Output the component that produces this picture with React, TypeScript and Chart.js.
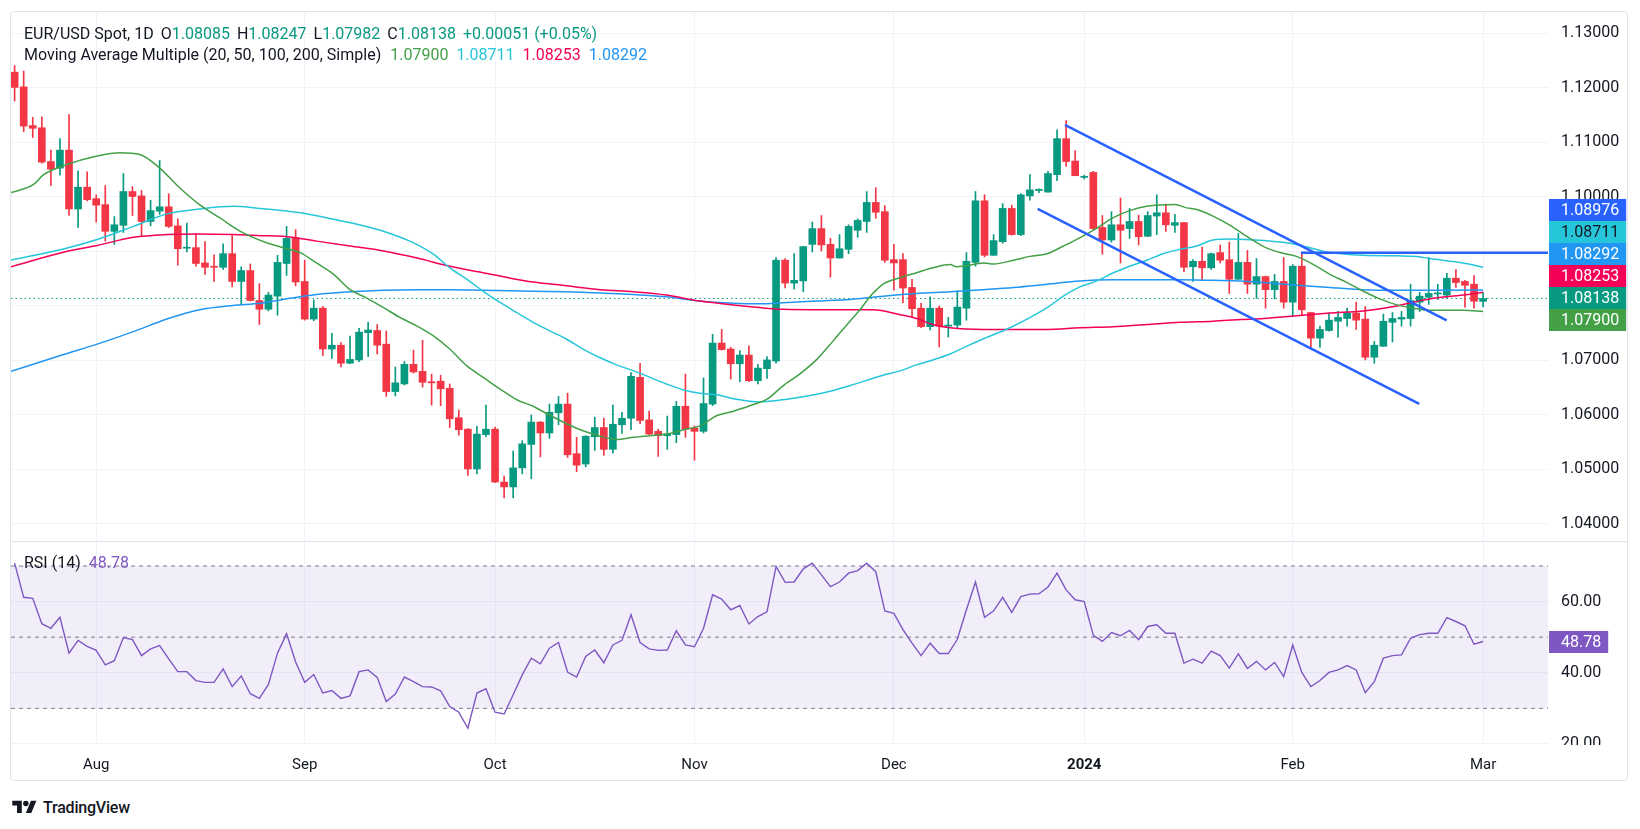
import React, { useEffect, useRef } from "react";
import { Chart, registerables } from "chart.js";

Chart.register(...registerables);

const FONT = 'Roboto, "Noto Sans", "DejaVu Sans", sans-serif';
const TEXT = "#131722";
const UP = "#089981";
const DOWN = "#F23645";
const GRID = "#F0F3FA";
const MA_COLORS = ["#43A047", "#26C6DA", "#F50057", "#2196F3"];
const TREND = "#2962FF";
const RSI_COLOR = "#7E57C2";

// ---------------- DATA ----------------
// Daily bars, index 0 = 19 Jul 2023 ... index 162 = 1 Mar 2024 (weekdays)
const opens = [
  1.1229, 1.1202, 1.1131, 1.1127, 1.1065, 1.1053, 1.1086, 1.0978, 1.1018, 1.0997,
  1.0986, 1.0937, 1.0948, 1.1010, 1.1002, 1.0955, 1.0974, 1.0982, 1.0947, 1.0906,
  1.0907, 1.0879, 1.0872, 1.0871, 1.0896, 1.0845, 1.0865, 1.0810, 1.0794, 1.0818,
  1.0878, 1.0925, 1.0845, 1.0776, 1.0796, 1.0721, 1.0728, 1.0695, 1.0701, 1.0751,
  1.0755, 1.0730, 1.0643, 1.0657, 1.0693, 1.0680, 1.0661, 1.0662, 1.0649, 1.0595,
  1.0574, 1.0501, 1.0564, 1.0574, 1.0477, 1.0468, 1.0503, 1.0546, 1.0587, 1.0567,
  1.0604, 1.0620, 1.0529, 1.0510, 1.0560, 1.0577, 1.0537, 1.0582, 1.0594, 1.0669,
  1.0591, 1.0570, 1.0562, 1.0564, 1.0616, 1.0576, 1.0570, 1.0620, 1.0732, 1.0721,
  1.0694, 1.0710, 1.0663, 1.0685, 1.0699, 1.0884, 1.0842, 1.0846, 1.0913, 1.0942,
  1.0913, 1.0888, 1.0904, 1.0939, 1.0955, 1.0990, 1.0973, 1.0885, 1.0885, 1.0834,
  1.0796, 1.0762, 1.0796, 1.0763, 1.0765, 1.0796, 1.0880, 1.0993, 1.0893, 1.0918,
  1.0979, 1.0931, 1.1002, 1.1012, 1.1009, 1.1041, 1.1107, 1.1066, 1.1036, 1.1045,
  1.0944, 1.0921, 1.0949, 1.0942, 1.0955, 1.0928, 1.0965, 1.0971, 1.0948, 1.0953,
  1.0872, 1.0882, 1.0870, 1.0898, 1.0885, 1.0849, 1.0880, 1.0840, 1.0854, 1.0830,
  1.0845, 1.0807, 1.0873, 1.0788, 1.0741, 1.0755, 1.0772, 1.0777, 1.0787, 1.0776,
  1.0706, 1.0726, 1.0770, 1.0776, 1.0777, 1.0807, 1.0816, 1.0822, 1.0820, 1.0851,
  1.0845, 1.0840, 1.08085,
];
const highs = [
  1.1241, 1.1231, 1.1146, 1.1147, 1.1086, 1.1107, 1.1151, 1.1048, 1.1046, 1.1004,
  1.1021, 1.0964, 1.1043, 1.1019, 1.1012, 1.0994, 1.1067, 1.1006, 1.0960, 1.0952,
  1.0933, 1.0918, 1.0894, 1.0914, 1.0931, 1.0872, 1.0877, 1.0841, 1.0825, 1.0893,
  1.0946, 1.0940, 1.0884, 1.0811, 1.0799, 1.0750, 1.0733, 1.0745, 1.0759, 1.0770,
  1.0766, 1.0754, 1.0688, 1.0698, 1.0719, 1.0737, 1.0675, 1.0673, 1.0657, 1.0609,
  1.0575, 1.0579, 1.0618, 1.0578, 1.0488, 1.0534, 1.0553, 1.0600, 1.0588, 1.0620,
  1.0634, 1.0640, 1.0559, 1.0562, 1.0596, 1.0594, 1.0618, 1.0605, 1.0678, 1.0695,
  1.0607, 1.0574, 1.0598, 1.0625, 1.0675, 1.0580, 1.0668, 1.0748, 1.0757, 1.0724,
  1.0718, 1.0727, 1.0693, 1.0707, 1.0889, 1.0887, 1.0896, 1.0909, 1.0954, 1.0966,
  1.0924, 1.0931, 1.0949, 1.0960, 1.1010, 1.1017, 1.0984, 1.0913, 1.0896, 1.0849,
  1.0805, 1.0817, 1.0800, 1.0779, 1.0828, 1.0898, 1.1010, 1.1004, 1.0931, 1.0988,
  1.0985, 1.1006, 1.1041, 1.1015, 1.1047, 1.1123, 1.1140, 1.1085, 1.1040, 1.1047,
  1.0966, 1.0973, 1.0998, 1.0979, 1.0967, 1.0973, 1.1004, 1.0987, 1.0968, 1.0953,
  1.0885, 1.0908, 1.0897, 1.0912, 1.0917, 1.0933, 1.0902, 1.0887, 1.0855, 1.0858,
  1.0889, 1.0876, 1.0898, 1.0788, 1.0763, 1.0787, 1.0790, 1.0796, 1.0807, 1.0799,
  1.0735, 1.0785, 1.0788, 1.0790, 1.0840, 1.0825, 1.0889, 1.0840, 1.0860, 1.0867,
  1.0847, 1.0856, 1.08247,
];
const lows = [
  1.1176, 1.1120, 1.1109, 1.1062, 1.1021, 1.1040, 1.0966, 1.0944, 1.0993, 1.0954,
  1.0919, 1.0913, 1.0935, 1.0966, 1.0929, 1.0947, 1.0968, 1.0944, 1.0875, 1.0899,
  1.0873, 1.0858, 1.0845, 1.0867, 1.0835, 1.0804, 1.0809, 1.0766, 1.0791, 1.0783,
  1.0856, 1.0837, 1.0774, 1.0773, 1.0709, 1.0704, 1.0688, 1.0694, 1.0698, 1.0707,
  1.0712, 1.0634, 1.0635, 1.0655, 1.0677, 1.0651, 1.0618, 1.0617, 1.0577, 1.0563,
  1.0489, 1.0492, 1.0560, 1.0476, 1.0448, 1.0448, 1.0492, 1.0483, 1.0523, 1.0557,
  1.0582, 1.0522, 1.0496, 1.0505, 1.0535, 1.0526, 1.0530, 1.0566, 1.0573, 1.0584,
  1.0564, 1.0524, 1.0537, 1.0549, 1.0559, 1.0517, 1.0567, 1.0617, 1.0719, 1.0666,
  1.0661, 1.0661, 1.0657, 1.0667, 1.0695, 1.0833, 1.0831, 1.0826, 1.0899, 1.0901,
  1.0853, 1.0888, 1.0896, 1.0926, 1.0935, 1.0961, 1.0880, 1.0829, 1.0806, 1.0780,
  1.0760, 1.0756, 1.0725, 1.0743, 1.0760, 1.0774, 1.0873, 1.0890, 1.0893, 1.0915,
  1.0930, 1.0929, 1.0994, 1.1008, 1.1009, 1.1030, 1.1056, 1.1039, 1.1033, 1.0940,
  1.0895, 1.0917, 1.0879, 1.0924, 1.0912, 1.0927, 1.0931, 1.0937, 1.0935, 1.0863,
  1.0845, 1.0847, 1.0867, 1.0879, 1.0823, 1.0849, 1.0823, 1.0814, 1.0796, 1.0813,
  1.0796, 1.0782, 1.0782, 1.0724, 1.0724, 1.0754, 1.0743, 1.0763, 1.0757, 1.0701,
  1.0695, 1.0726, 1.0734, 1.0763, 1.0763, 1.0790, 1.0803, 1.0812, 1.0815, 1.0834,
  1.0798, 1.0796, 1.07982,
];
const closes = [
  1.1201, 1.1130, 1.1126, 1.1064, 1.1051, 1.1086, 1.0978, 1.1018, 1.0995, 1.0985,
  1.0937, 1.0949, 1.1010, 1.1001, 1.0955, 1.0975, 1.0982, 1.0946, 1.0905, 1.0907,
  1.0878, 1.0871, 1.0871, 1.0896, 1.0845, 1.0865, 1.0810, 1.0794, 1.0820, 1.0880,
  1.0924, 1.0844, 1.0776, 1.0796, 1.0721, 1.0728, 1.0695, 1.0702, 1.0752, 1.0756,
  1.0728, 1.0643, 1.0659, 1.0693, 1.0679, 1.0660, 1.0659, 1.0648, 1.0593, 1.0573,
  1.0501, 1.0565, 1.0574, 1.0477, 1.0468, 1.0503, 1.0547, 1.0587, 1.0567, 1.0605,
  1.0620, 1.0527, 1.0508, 1.0561, 1.0577, 1.0537, 1.0583, 1.0594, 1.0671, 1.0590,
  1.0565, 1.0562, 1.0565, 1.0616, 1.0574, 1.0570, 1.0621, 1.0732, 1.0720, 1.0694,
  1.0710, 1.0663, 1.0686, 1.0701, 1.0884, 1.0842, 1.0847, 1.0909, 1.0942, 1.0912,
  1.0888, 1.0905, 1.0946, 1.0957, 1.0990, 1.0972, 1.0884, 1.0879, 1.0833, 1.0795,
  1.0762, 1.0796, 1.0763, 1.0765, 1.0798, 1.0882, 1.0993, 1.0893, 1.0920, 1.0979,
  1.0931, 1.1004, 1.1013, 1.1014, 1.1043, 1.1107, 1.1065, 1.1039, 1.1037, 1.0942,
  1.0921, 1.0949, 1.0939, 1.0955, 1.0927, 1.0966, 1.0971, 1.0949, 1.0953, 1.0871,
  1.0882, 1.0870, 1.0896, 1.0884, 1.0849, 1.0880, 1.0840, 1.0854, 1.0830, 1.0845,
  1.0807, 1.0873, 1.0793, 1.0741, 1.0757, 1.0774, 1.0779, 1.0787, 1.0774, 1.0706,
  1.0728, 1.0772, 1.0777, 1.0779, 1.0810, 1.0818, 1.0823, 1.0824, 1.0851, 1.0843,
  1.0838, 1.08087, 1.08138,
];

const rsi14 = [
  70.8, 61.2, 60.9, 53.8, 52.5, 55.6, 45.5, 49.1, 47.4, 46.3,
  42.2, 43.4, 49.9, 49.3, 44.8, 46.7, 47.6, 43.9, 40.3, 40.3,
  37.8, 37.3, 37.3, 41.1, 36.1, 39.1, 34.1, 32.8, 36.7, 45.5,
  51.0, 43.0, 37.3, 39.5, 34.3, 35.0, 32.8, 33.5, 40.3, 40.8,
  38.7, 31.9, 34.0, 38.8, 37.5, 36.1, 36.0, 34.9, 30.5, 28.9,
  24.4, 34.3, 35.5, 28.9, 28.4, 33.8, 39.4, 44.1, 42.5, 46.9,
  48.5, 40.2, 38.8, 44.6, 46.4, 42.8, 47.8, 49.1, 56.3, 48.5,
  46.7, 46.3, 46.4, 51.8, 47.8, 47.3, 52.5, 61.9, 60.7, 57.7,
  58.9, 53.7, 55.8, 57.1, 69.9, 65.4, 65.5, 69.2, 70.8, 67.5,
  64.2, 65.5, 68.0, 68.7, 70.8, 68.4, 57.4, 56.7, 52.1, 48.3,
  44.8, 48.3, 45.4, 45.4, 49.4, 57.7, 65.5, 55.6, 57.4, 61.2,
  57.0, 61.4, 62.1, 62.2, 64.1, 68.0, 63.3, 60.5, 60.0, 50.5,
  48.8, 51.3, 50.4, 51.9, 49.3, 53.0, 53.5, 51.1, 51.1, 42.7,
  43.8, 42.7, 46.1, 44.8, 41.3, 45.3, 41.2, 43.2, 40.8, 42.9,
  38.9, 47.8, 40.1, 36.1, 37.8, 40.1, 40.8, 42.0, 40.8, 34.4,
  37.5, 44.1, 44.8, 45.0, 49.7, 50.7, 51.1, 51.1, 55.5, 54.4,
  53.2, 48.0, 48.78,
];

// Moving averages: [bar index, value]
const ma20Pts = [
  [-0.4, 1.1008], [2.1, 1.1023], [3.2, 1.1041], [5.7, 1.1059], [9.1, 1.1075], [11.6, 1.1081],
  [13.8, 1.1078], [16.0, 1.1053], [18.2, 1.1017], [20.4, 1.0986], [22.7, 1.0961], [24.9, 1.0937],
  [27.8, 1.0916], [29.6, 1.0907], [31.5, 1.0898], [33.3, 1.0879], [35.2, 1.0858], [37.0, 1.0830],
  [38.8, 1.0815], [40.7, 1.0797], [42.5, 1.0779], [44.4, 1.0763], [46.2, 1.0745], [48.0, 1.0721],
  [49.9, 1.0690], [51.7, 1.0669], [53.6, 1.0647], [55.4, 1.0628], [57.2, 1.0616], [59.1, 1.0599],
  [60.9, 1.0584], [62.7, 1.0571], [64.6, 1.0561], [66.4, 1.0555], [68.3, 1.0559], [70.1, 1.0562],
  [71.9, 1.0565], [73.8, 1.0573], [75.6, 1.0580], [77.5, 1.0599], [79.3, 1.0607], [81.1, 1.0617],
  [83.0, 1.0629], [84.8, 1.0654], [86.6, 1.0675], [88.5, 1.0702], [90.3, 1.0736], [92.2, 1.0773],
  [93.3, 1.0794], [94.4, 1.0818], [95.1, 1.0830], [95.8, 1.0840], [97.7, 1.0852], [99.5, 1.0861],
  [101.3, 1.0870], [103.2, 1.0876], [103.9, 1.0872], [105.0, 1.0874], [106.9, 1.0879], [108.0, 1.0877],
  [110.2, 1.0884], [112.0, 1.0891], [113.9, 1.0896], [115.7, 1.0910], [117.5, 1.0925], [119.4, 1.0943],
  [121.2, 1.0962], [123.0, 1.0975], [124.9, 1.0983], [128.0, 1.0986], [129.3, 1.0980], [130.4, 1.0977],
  [132.2, 1.0965], [134.1, 1.0948], [135.9, 1.0928], [137.8, 1.0909], [139.6, 1.0898], [141.4, 1.0891],
  [143.3, 1.0876], [145.1, 1.0858], [147.0, 1.0843], [148.8, 1.0827], [150.6, 1.0813], [152.5, 1.0802],
  [154.3, 1.0796], [156.1, 1.0792], [159.8, 1.0792], [162.0, 1.079],
];
const ma50Pts = [
  [-0.4, 1.0884], [5.7, 1.0906], [9.1, 1.0922], [13.1, 1.0946], [16.8, 1.0969], [20.4, 1.0978],
  [24.1, 1.0983], [27.1, 1.0979], [31.5, 1.0971], [35.2, 1.0959], [38.8, 1.0946], [40.7, 1.0937],
  [43.6, 1.0919], [46.2, 1.0895], [48.0, 1.0870], [49.9, 1.0849], [51.7, 1.0827], [53.6, 1.0806],
  [55.4, 1.0788], [57.2, 1.0770], [59.1, 1.0754], [60.9, 1.0739], [62.7, 1.0721], [64.6, 1.0705],
  [66.4, 1.0692], [68.3, 1.0681], [70.1, 1.0669], [71.9, 1.0657], [73.8, 1.0646], [75.6, 1.0640],
  [77.5, 1.0637], [79.3, 1.0630], [82.2, 1.0624], [85.2, 1.0629], [88.5, 1.0638], [90.3, 1.0645],
  [92.2, 1.0654], [95.8, 1.0673], [97.7, 1.0681], [99.5, 1.0692], [101.3, 1.0701], [103.2, 1.0712],
  [105.0, 1.0726], [106.9, 1.0740], [109.8, 1.0760], [113.9, 1.0797], [115.7, 1.0818], [117.5, 1.0835],
  [119.4, 1.0846], [121.2, 1.0861], [123.0, 1.0873], [124.9, 1.0884], [126.7, 1.0896], [128.6, 1.0904],
  [130.4, 1.0910], [132.2, 1.0921], [134.1, 1.0923], [137.8, 1.0920], [141.4, 1.0913], [143.3, 1.0905],
  [145.1, 1.0898], [148.8, 1.0893], [152.5, 1.0892], [154.7, 1.0891], [156.1, 1.0887], [159.8, 1.0879],
  [162.0, 1.08711],
];
const ma100Pts = [
  [-0.4, 1.0872], [5.7, 1.0900], [9.1, 1.0911], [13.1, 1.0926], [16.8, 1.0931], [20.4, 1.0932],
  [24.1, 1.0931], [27.1, 1.0929], [29.6, 1.0928], [33.3, 1.0919], [37.0, 1.0910], [40.7, 1.0901],
  [44.4, 1.0888], [48.0, 1.0873], [51.7, 1.0861], [54.7, 1.0851], [57.2, 1.0844], [60.9, 1.0837],
  [64.6, 1.0830], [68.3, 1.0826], [71.9, 1.0820], [75.6, 1.0809], [79.3, 1.0802], [82.2, 1.0797],
  [84.8, 1.0794], [92.2, 1.0793], [94.7, 1.0793], [97.7, 1.0784], [99.5, 1.0777], [101.3, 1.0766],
  [103.2, 1.0760], [106.9, 1.0757], [110.0, 1.0757], [113.9, 1.0757], [117.5, 1.0760], [121.2, 1.0762],
  [124.9, 1.0766], [128.6, 1.0770], [132.2, 1.0772], [135.2, 1.0775], [137.8, 1.0777], [141.4, 1.0782],
  [145.1, 1.0787], [148.8, 1.0791], [152.5, 1.0800], [154.3, 1.0807], [156.1, 1.0813], [159.8, 1.0820],
  [162.0, 1.08253],
];
const ma200Pts = [
  [-0.4, 1.0680], [5.4, 1.0711], [9.1, 1.0730], [13.1, 1.0753], [16.8, 1.0776], [20.4, 1.0793],
  [24.1, 1.0801], [27.1, 1.0805], [29.6, 1.0812], [33.3, 1.0821], [37.0, 1.0826], [40.7, 1.0829],
  [44.4, 1.0830], [48.0, 1.0830], [51.7, 1.0829], [54.7, 1.0828], [57.2, 1.0827], [60.9, 1.0826],
  [64.6, 1.0824], [68.3, 1.0821], [71.9, 1.0817], [75.6, 1.0809], [79.3, 1.0805], [82.2, 1.0804],
  [84.8, 1.0806], [88.5, 1.0809], [92.2, 1.0812], [95.8, 1.0818], [99.5, 1.0823], [103.2, 1.0826],
  [106.9, 1.0830], [110.2, 1.0834], [113.9, 1.0840], [117.5, 1.0846], [121.2, 1.0848], [124.9, 1.0848],
  [128.6, 1.0848], [132.2, 1.0847], [135.2, 1.0846], [137.8, 1.0843], [141.4, 1.0838], [145.1, 1.0834],
  [148.8, 1.0830], [152.5, 1.0829], [156.1, 1.0829], [162.0, 1.08292],
];
const maPeriods = [20, 50, 100, 200];

// Drawings
const channelUpperX = [115.87, 157.98];
const channelUpperY = [1.11321, 1.07738];
const channelLowerX = [112.86, 154.96];
const channelLowerY = [1.0978, 1.06202];
const levelStart = 141.9;
const levelValue = 1.08976;

// Axes
const priceTicks = [1.04, 1.05, 1.06, 1.07, 1.08, 1.09, 1.1, 1.11, 1.12, 1.13];
const rsiTicks = [20, 40, 60];
const rsiBands = [70, 50, 30];
const monthIdx = [9, 32, 53, 75, 97, 118, 141, 162];
const monthLabels = ["Aug", "Sep", "Oct", "Nov", "Dec", "2024", "Feb", "Mar"];

// ---------------- LAYOUT CONSTANTS ----------------
const XMIN = -0.4;
const XMAX = 169.16;
const PMIN = 1.03688;
const PMAX = 1.13394;
const RMIN = 19.97;
const RMAX = 77.03;

const last = closes.length - 1;
const lastClose = closes[last];
const change = closes[last] - closes[last - 1];
const changePct = (change / closes[last - 1]) * 100;
const lastMA = [ma20Pts, ma50Pts, ma100Pts, ma200Pts].map((a) => a[a.length - 1][1]);

const labelFor = (v: number) => {
  const k = monthIdx.indexOf(v);
  return k >= 0 ? monthLabels[k] : "";
};

const pts = (a: number[][]) => a.map(([x, y]) => ({ x, y }));

const lineDs = (data: any[], color: string, width: number, extra: any = {}) => ({
  type: "line",
  data,
  borderColor: color,
  backgroundColor: color,
  borderWidth: width,
  pointRadius: 0,
  pointHoverRadius: 0,
  fill: false,
  cubicInterpolationMode: "monotone",
  ...extra,
});

// scale padding added by Chart.js for tick labels would shrink the panes; cancel it
const noScalePadding = (s: any) => {
  s.paddingTop = 0;
  s.paddingBottom = 0;
  s.paddingLeft = 0;
  s.paddingRight = 0;
};

const priceTagPlugin = {
  id: "priceTags",
  afterDraw(chart: any) {
    const { ctx, chartArea, scales } = chart;
    const ys = scales.y;
    const h = 22;
    const items = [
      { v: levelValue, bg: TREND, fg: "#FFFFFF", anchor: false },
      { v: lastMA[1], bg: MA_COLORS[1], fg: TEXT, anchor: false },
      { v: lastMA[3], bg: MA_COLORS[3], fg: "#FFFFFF", anchor: false },
      { v: lastMA[2], bg: MA_COLORS[2], fg: "#FFFFFF", anchor: false },
      { v: lastClose, bg: UP, fg: "#FFFFFF", anchor: true },
      { v: lastMA[0], bg: MA_COLORS[0], fg: "#FFFFFF", anchor: false },
    ]
      .sort((a, b) => b.v - a.v)
      .map((t) => ({ ...t, py: ys.getPixelForValue(t.v), ty: 0 }));
    const a = items.findIndex((t) => t.anchor);
    items[a].ty = items[a].py;
    for (let k = a - 1; k >= 0; k--) items[k].ty = Math.min(items[k].py, items[k + 1].ty - h);
    for (let k = a + 1; k < items.length; k++) items[k].ty = Math.max(items[k].py, items[k - 1].ty + h);
    ctx.save();
    ctx.font = `16px ${FONT}`;
    ctx.textBaseline = "middle";
    ctx.textAlign = "left";
    const x0 = chartArea.right + 1;
    items.forEach((t) => {
      const label = t.v.toFixed(5);
      const w = ctx.measureText(label).width + 19;
      ctx.fillStyle = t.bg;
      ctx.fillRect(x0, Math.round(t.ty - h / 2), w, h);
      ctx.fillStyle = t.fg;
      ctx.fillText(label, x0 + 12, t.ty + 1);
    });
    ctx.restore();
  },
};

const rsiTagPlugin = {
  id: "rsiTag",
  afterDraw(chart: any) {
    const { ctx, chartArea, scales, width } = chart;
    ctx.save();
    // clip axis labels that fall below the pane
    ctx.fillStyle = "#FFFFFF";
    ctx.fillRect(chartArea.right + 1, chartArea.bottom + 1, width - chartArea.right, 16);
    const v = rsi14[last];
    const y = scales.y.getPixelForValue(v);
    ctx.font = `16px ${FONT}`;
    ctx.textBaseline = "middle";
    const label = v.toFixed(2);
    const w = ctx.measureText(label).width + 19;
    ctx.fillStyle = RSI_COLOR;
    ctx.fillRect(chartArea.right + 1, Math.round(y - 11), w, 22);
    ctx.fillStyle = "#FFFFFF";
    ctx.fillText(label, chartArea.right + 13, y + 1);
    ctx.restore();
  },
};

function buildMain(canvas: HTMLCanvasElement) {
  const idx = closes.map((_, i) => i);
  const colors = idx.map((i) => (closes[i] >= opens[i] ? UP : DOWN));
  const bodies = idx.map((i) => ({ x: i, y: [opens[i], closes[i]] }));
  const wicks = idx.map((i) => ({ x: i, y: [lows[i], highs[i]] }));
  return new Chart(canvas, {
    type: "bar",
    data: {
      datasets: [
        lineDs(
          [{ x: channelUpperX[0], y: channelUpperY[0] }, { x: channelUpperX[1], y: channelUpperY[1] }],
          TREND, 2.5, { order: 0, cubicInterpolationMode: "default", tension: 0 }
        ),
        lineDs(
          [{ x: channelLowerX[0], y: channelLowerY[0] }, { x: channelLowerX[1], y: channelLowerY[1] }],
          TREND, 2.5, { order: 0, cubicInterpolationMode: "default", tension: 0 }
        ),
        lineDs([{ x: levelStart, y: levelValue }, { x: XMAX, y: levelValue }], TREND, 2.5, {
          order: 0, cubicInterpolationMode: "default", tension: 0,
        }),
        lineDs(pts(ma20Pts), MA_COLORS[0], 1.5, { order: 1 }),
        lineDs(pts(ma50Pts), MA_COLORS[1], 1.5, { order: 1 }),
        lineDs(pts(ma100Pts), MA_COLORS[2], 1.5, { order: 1 }),
        lineDs(pts(ma200Pts), MA_COLORS[3], 1.5, { order: 1 }),
        {
          type: "bar",
          data: bodies,
          backgroundColor: colors,
          borderWidth: 0,
          barThickness: 7,
          grouped: false,
          minBarLength: 1,
          order: 3,
        },
        {
          type: "bar",
          data: wicks,
          backgroundColor: colors,
          borderWidth: 0,
          barThickness: 1,
          grouped: false,
          order: 4,
        },
        lineDs([{ x: XMIN, y: lastClose }, { x: XMAX, y: lastClose }], UP, 1, {
          order: 5, borderDash: [1.5, 3], cubicInterpolationMode: "default", tension: 0,
        }),
      ],
    },
    options: {
      animation: false,
      responsive: false,
      maintainAspectRatio: false,
      events: [],
      layout: { autoPadding: false, padding: { left: 11, right: 13, top: 12, bottom: 0 } },
      plugins: { legend: { display: false }, tooltip: { enabled: false } },
      scales: {
        x: {
          type: "linear",
          min: XMIN,
          max: XMAX,
          offset: false,
          grid: { color: GRID, drawTicks: false, offset: false },
          border: { display: false },
          ticks: { display: false },
          afterBuildTicks: (s: any) => {
            s.ticks = monthIdx.map((v) => ({ value: v }));
          },
          afterFit: (s: any) => {
            s.height = 0;
            noScalePadding(s);
          },
        },
        y: {
          position: "right",
          min: PMIN,
          max: PMAX,
          grid: { color: GRID, drawTicks: false },
          border: { display: false },
          ticks: {
            padding: 13,
            color: TEXT,
            font: { family: FONT, size: 16 },
            callback: (v: any) => Number(v).toFixed(5),
          },
          afterBuildTicks: (s: any) => {
            s.ticks = priceTicks.map((v) => ({ value: v }));
          },
          afterFit: (s: any) => {
            s.width = 79;
            noScalePadding(s);
          },
        },
      },
    },
    plugins: [priceTagPlugin],
  } as any);
}

function buildRsi(canvas: HTMLCanvasElement) {
  const idx = rsi14.map((_, i) => i);
  const band = (v: number) => [{ x: XMIN, y: v }, { x: XMAX, y: v }];
  return new Chart(canvas, {
    type: "line",
    data: {
      datasets: [
        lineDs(band(rsiBands[0]), "#787B86", 1, { borderDash: [4, 4], order: 3, tension: 0, cubicInterpolationMode: "default" }),
        lineDs(band(rsiBands[2]), "#787B86", 1, {
          borderDash: [4, 4], order: 2, tension: 0, cubicInterpolationMode: "default",
          fill: "-1", backgroundColor: "rgba(126,87,194,0.1)",
        }),
        lineDs(band(rsiBands[1]), "#787B86", 1, { borderDash: [4, 4], order: 1, tension: 0, cubicInterpolationMode: "default" }),
        lineDs(idx.map((i) => ({ x: i, y: rsi14[i] })), RSI_COLOR, 1.4, {
          order: 0, tension: 0, cubicInterpolationMode: "default",
        }),
      ],
    },
    options: {
      animation: false,
      responsive: false,
      maintainAspectRatio: false,
      events: [],
      layout: { autoPadding: false, padding: { left: 11, right: 13, top: 0, bottom: 0 } },
      plugins: { legend: { display: false }, tooltip: { enabled: false } },
      scales: {
        x: {
          type: "linear",
          min: XMIN,
          max: XMAX,
          offset: false,
          grid: { color: GRID, drawTicks: false },
          border: { display: false },
          ticks: {
            autoSkip: false,
            maxRotation: 0,
            padding: 12,
            color: TEXT,
            font: (c: any) => ({
              family: FONT,
              size: 15,
              weight: c.tick && labelFor(c.tick.value) === "2024" ? "bold" : "normal",
            }),
            callback: (v: any) => labelFor(Number(v)),
          },
          afterBuildTicks: (s: any) => {
            s.ticks = monthIdx.map((v) => ({ value: v }));
          },
          afterFit: (s: any) => {
            s.height = 38;
            noScalePadding(s);
          },
        },
        y: {
          position: "right",
          min: RMIN,
          max: RMAX,
          grid: { color: GRID, drawTicks: false },
          border: { display: false },
          ticks: {
            padding: 13,
            color: TEXT,
            font: { family: FONT, size: 16 },
            callback: (v: any) => Number(v).toFixed(2),
          },
          afterBuildTicks: (s: any) => {
            s.ticks = rsiTicks.map((v) => ({ value: v }));
          },
          afterFit: (s: any) => {
            s.width = 79;
            noScalePadding(s);
          },
        },
      },
    },
    plugins: [rsiTagPlugin],
  } as any);
}

export default function App() {
  const mainRef = useRef<HTMLCanvasElement>(null);
  const rsiRef = useRef<HTMLCanvasElement>(null);

  useEffect(() => {
    const m = buildMain(mainRef.current as HTMLCanvasElement);
    const r = buildRsi(rsiRef.current as HTMLCanvasElement);
    return () => {
      m.destroy();
      r.destroy();
    };
  }, []);

  const valColor = closes[last] >= opens[last] ? UP : DOWN;
  const sign = change >= 0 ? "+" : "";

  return (
    <div
      style={{
        position: "absolute",
        left: 0,
        top: 0,
        width: 1640,
        height: 829,
        background: "#FFFFFF",
        overflow: "hidden",
        fontFamily: FONT,
        color: TEXT,
      }}
    >
      <canvas
        ref={mainRef}
        width={1640}
        height={541}
        style={{ position: "absolute", left: 0, top: 0, width: 1640, height: 541 }}
      />
      <canvas
        ref={rsiRef}
        width={1640}
        height={241}
        style={{ position: "absolute", left: 0, top: 541, width: 1640, height: 241 }}
      />

      {/* frame and pane separator */}
      <div
        style={{
          position: "absolute",
          left: 10,
          top: 11,
          width: 1618,
          height: 770,
          border: "1px solid #E0E3EB",
          borderRadius: 4,
          boxSizing: "border-box",
          pointerEvents: "none",
        }}
      />
      <div style={{ position: "absolute", left: 10, top: 541, width: 1618, height: 1, background: "#E0E3EB" }} />

      {/* legend rows */}
      <div
        style={{
          position: "absolute",
          left: 24,
          top: 23,
          lineHeight: "21px",
          fontSize: 16,
          whiteSpace: "nowrap",
          display: "flex",
        }}
      >
        <span>EUR/USD Spot, 1D</span>
        <span style={{ marginLeft: 7 }}>O</span>
        <span style={{ color: valColor }}>{opens[last].toFixed(5)}</span>
        <span style={{ marginLeft: 7 }}>H</span>
        <span style={{ color: valColor }}>{highs[last].toFixed(5)}</span>
        <span style={{ marginLeft: 7 }}>L</span>
        <span style={{ color: valColor }}>{lows[last].toFixed(5)}</span>
        <span style={{ marginLeft: 7 }}>C</span>
        <span style={{ color: valColor }}>{closes[last].toFixed(5)}</span>
        <span style={{ marginLeft: 7, color: valColor }}>
          {sign}
          {change.toFixed(5)} ({sign}
          {changePct.toFixed(2)}%)
        </span>
      </div>
      <div
        style={{
          position: "absolute",
          left: 24,
          top: 44,
          lineHeight: "21px",
          fontSize: 16,
          whiteSpace: "nowrap",
          display: "flex",
        }}
      >
        <span>Moving Average Multiple ({maPeriods.join(", ")}, Simple)</span>
        {lastMA.map((v, k) => (
          <span key={k} style={{ marginLeft: k === 0 ? 9 : 8, color: MA_COLORS[k] }}>
            {v.toFixed(5)}
          </span>
        ))}
      </div>

      {/* RSI legend */}
      <div
        style={{
          position: "absolute",
          left: 24,
          top: 552,
          lineHeight: "21px",
          fontSize: 16,
          whiteSpace: "nowrap",
          display: "flex",
        }}
      >
        <span>RSI (14)</span>
        <span style={{ marginLeft: 8, color: RSI_COLOR }}>{rsi14[last].toFixed(2)}</span>
      </div>

      {/* logo */}
      <div
        style={{
          position: "absolute",
          left: 12,
          top: 797,
          height: 20,
          display: "flex",
          alignItems: "center",
          whiteSpace: "nowrap",
        }}
      >
        <svg width="25" height="19" viewBox="0 0 36 28">
          <path d="M14 22H7V11H0V4h14v18z" fill={TEXT} />
          <circle cx="20" cy="8" r="4" fill={TEXT} />
          <path d="M28 22h-8l7.5-18h8L28 22z" fill={TEXT} />
        </svg>
        <span style={{ marginLeft: 6, fontSize: 16, fontWeight: 500, letterSpacing: -0.2 }}>TradingView</span>
      </div>
    </div>
  );
}
